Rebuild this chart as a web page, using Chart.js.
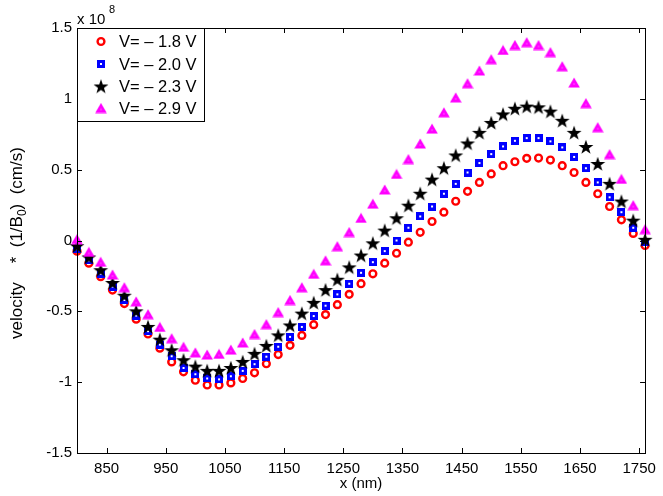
<!DOCTYPE html>
<html>
<head>
<meta charset="utf-8">
<script src="https://cdn.jsdelivr.net/npm/chart.js@4/dist/chart.umd.min.js"></script>
<style>
    html, body { margin: 0; padding: 0; background: #fff; }
    #velocity-chart { display: block; }
</style>
</head>
<body>
<canvas id="velocity-chart" width="663" height="496"></canvas>
<script>
// wavelength positions (nm)
const x_nm = [800, 820, 840, 860, 880, 900, 920, 940, 960, 980,
    1000, 1020, 1040, 1060, 1080, 1100, 1120, 1140, 1160, 1180,
    1200, 1220, 1240, 1260, 1280, 1300, 1320, 1340, 1360, 1380,
    1400, 1420, 1440, 1460, 1480, 1500, 1520, 1540, 1560, 1580,
    1600, 1620, 1640, 1660, 1680, 1700, 1720, 1740, 1760];

// velocity * (1/B0), in units of 1e8 cm/s
const v_18 = [-0.075, -0.16, -0.255, -0.35, -0.445, -0.555, -0.66, -0.76, -0.857, -0.927,
    -0.986, -1.02, -1.02, -1.005, -0.974, -0.934, -0.87, -0.805, -0.74, -0.67,
    -0.594, -0.523, -0.453, -0.38, -0.305, -0.235, -0.16, -0.09, -0.012, 0.058,
    0.134, 0.2, 0.277, 0.347, 0.41, 0.47, 0.528, 0.556, 0.58, 0.582,
    0.568, 0.528, 0.48, 0.41, 0.33, 0.24, 0.146, 0.05, -0.035];
const v_20 = [-0.06, -0.14, -0.235, -0.325, -0.42, -0.53, -0.64, -0.735, -0.817, -0.9,
    -0.944, -0.974, -0.98, -0.958, -0.92, -0.873, -0.82, -0.75, -0.68, -0.61,
    -0.533, -0.46, -0.38, -0.305, -0.228, -0.153, -0.075, 0.0, 0.09, 0.17,
    0.24, 0.33, 0.4, 0.48, 0.547, 0.61, 0.664, 0.704, 0.723, 0.723,
    0.7, 0.657, 0.59, 0.51, 0.41, 0.305, 0.2, 0.09, -0.01];
const v_23 = [-0.04, -0.12, -0.21, -0.3, -0.39, -0.5, -0.61, -0.7, -0.775, -0.845,
    -0.89, -0.92, -0.92, -0.9, -0.857, -0.8, -0.744, -0.67, -0.6, -0.516,
    -0.44, -0.35, -0.277, -0.19, -0.106, -0.02, 0.07, 0.157, 0.246, 0.33,
    0.43, 0.51, 0.6, 0.685, 0.76, 0.83, 0.89, 0.93, 0.945, 0.94,
    0.91, 0.845, 0.76, 0.66, 0.54, 0.4, 0.275, 0.14, 0.005];
const v_29 = [0.01, -0.08, -0.15, -0.24, -0.33, -0.43, -0.52, -0.61, -0.69, -0.75,
    -0.79, -0.805, -0.8, -0.77, -0.72, -0.66, -0.59, -0.505, -0.42, -0.33,
    -0.235, -0.14, -0.04, 0.06, 0.16, 0.26, 0.36, 0.47, 0.575, 0.685,
    0.79, 0.905, 1.01, 1.11, 1.2, 1.28, 1.345, 1.38, 1.4, 1.38,
    1.33, 1.23, 1.115, 0.97, 0.8, 0.61, 0.435, 0.25, 0.08];

const series_labels = ["V= \u2013 1.8 V", "V= \u2013 2.0 V", "V= \u2013 2.3 V", "V= \u2013 2.9 V"];

const x_ticks = [850, 950, 1050, 1150, 1250, 1350, 1450, 1550, 1650, 1750];
const y_ticks = [-1.5, -1, -0.5, 0, 0.5, 1, 1.5];

const FONT = "'Liberation Sans', Arial, Helvetica, sans-serif";

function make_square_marker() {
    let c = document.createElement('canvas');
    c.width = 8; c.height = 8;
    let ctx = c.getContext('2d');
    ctx.fillStyle = '#0000ff';
    ctx.fillRect(0, 0, 8, 8);
    ctx.fillStyle = '#ffffff';
    ctx.fillRect(3, 3, 2, 2);
    return c;
}

function make_star_marker() {
    let c = document.createElement('canvas');
    c.width = 16; c.height = 16;
    let ctx = c.getContext('2d');
    let cx = 8, cy = 8.5, ro = 7.8, ri = 3.1;
    ctx.beginPath();
    for (let i = 0; i < 10; i++) {
        let r = (i % 2 === 0) ? ro : ri;
        let a = -Math.PI / 2 + i * Math.PI / 5;
        let px = cx + r * Math.cos(a), py = cy + r * Math.sin(a);
        if (i === 0) ctx.moveTo(px, py); else ctx.lineTo(px, py);
    }
    ctx.closePath();
    ctx.fillStyle = '#000000';
    ctx.fill();
    return c;
}

function make_triangle_marker() {
    let c = document.createElement('canvas');
    c.width = 12; c.height = 11;
    let ctx = c.getContext('2d');
    ctx.beginPath();
    ctx.moveTo(6, 0.5);
    ctx.lineTo(11.8, 10.5);
    ctx.lineTo(0.2, 10.5);
    ctx.closePath();
    ctx.fillStyle = '#ff00ff';
    ctx.fill();
    ctx.fillStyle = '#ffb8ff';
    ctx.fillRect(5.5, 6.5, 1, 1);
    return c;
}

const square_img = make_square_marker();
const star_img = make_star_marker();
const triangle_img = make_triangle_marker();

function to_points(ys) {
    return x_nm.map((x, i) => ({ x: x, y: ys[i] }));
}

// box, inward ticks, labels and legend in matlab style
const matlab_axes_plugin = {
    id: 'matlab_axes',
    afterDraw(chart) {
        const ctx = chart.ctx;
        const area = chart.chartArea;
        const xs = chart.scales.x, ys = chart.scales.y;
        const tick_len = 5;

        ctx.save();
        ctx.strokeStyle = '#000';
        ctx.lineWidth = 1;
        ctx.beginPath();
        x_ticks.forEach((v) => {
            let px = Math.round(xs.getPixelForValue(v)) + 0.5;
            ctx.moveTo(px, area.bottom); ctx.lineTo(px, area.bottom - tick_len);
            ctx.moveTo(px, area.top); ctx.lineTo(px, area.top + tick_len);
        });
        y_ticks.forEach((v) => {
            let py = Math.round(ys.getPixelForValue(v)) + 0.5;
            ctx.moveTo(area.left, py); ctx.lineTo(area.left + tick_len, py);
            ctx.moveTo(area.right, py); ctx.lineTo(area.right - tick_len, py);
        });
        ctx.stroke();
        ctx.strokeRect(Math.round(area.left) + 0.5, Math.round(area.top) + 0.5,
            Math.round(area.right - area.left), Math.round(area.bottom - area.top));

        // exponent
        ctx.fillStyle = '#000';
        ctx.textBaseline = 'alphabetic';
        ctx.textAlign = 'left';
        ctx.font = '15px ' + FONT;
        ctx.fillText('x 10', area.left, 24);
        ctx.font = '11px ' + FONT;
        ctx.fillText('8', area.left + 32, 13);

        // x label
        ctx.font = '15px ' + FONT;
        ctx.textAlign = 'center';
        ctx.fillText('x (nm)', (area.left + area.right) / 2, 488);

        // y label with subscript
        ctx.save();
        ctx.translate(22, 243);
        ctx.rotate(-Math.PI / 2);
        ctx.textAlign = 'left';
        let part1 = 'velocity    *  (1/B';
        let part2 = '0';
        let part3 = ')  (cm/s)';
        ctx.font = '17px ' + FONT;
        let w1 = ctx.measureText(part1).width;
        let w3 = ctx.measureText(part3).width;
        ctx.font = '12px ' + FONT;
        let w2 = ctx.measureText(part2).width;
        let start = -(w1 + w2 + w3) / 2;
        ctx.font = '17px ' + FONT;
        ctx.fillText(part1, start, 0);
        ctx.font = '12px ' + FONT;
        ctx.fillText(part2, start + w1, 4);
        ctx.font = '17px ' + FONT;
        ctx.fillText(part3, start + w1 + w2, 0);
        ctx.restore();

        // legend
        let lx = Math.round(area.left) + 0.5, ly = Math.round(area.top) + 0.5;
        ctx.fillStyle = '#fff';
        ctx.fillRect(lx, ly, 127, 93);
        ctx.strokeRect(lx, ly, 127, 93);
        let rows = [41.5, 64, 86.5, 108];
        chart.data.datasets.forEach((ds, i) => {
            let mx = 101, my = rows[i];
            if (i === 0) {
                ctx.beginPath();
                ctx.arc(mx, my, 3.4, 0, Math.PI * 2);
                ctx.fillStyle = '#fff';
                ctx.fill();
                ctx.lineWidth = 2.4;
                ctx.strokeStyle = '#ff0000';
                ctx.stroke();
                ctx.lineWidth = 1;
                ctx.strokeStyle = '#000';
            } else {
                let img = ds.pointStyle;
                ctx.drawImage(img, mx - img.width / 2, my - img.height / 2);
            }
            ctx.fillStyle = '#000';
            ctx.font = '16.5px ' + FONT;
            ctx.textAlign = 'left';
            ctx.textBaseline = 'middle';
            ctx.fillText(ds.label, 119, my + 1);
        });
        ctx.restore();
    }
};

new Chart(document.getElementById('velocity-chart'), {
    type: 'scatter',
    data: {
        datasets: [
            {
                label: series_labels[0],
                data: to_points(v_18),
                pointStyle: 'circle',
                pointRadius: 3.4,
                pointBorderWidth: 2.4,
                borderColor: '#ff0000',
                backgroundColor: '#ffffff',
                clip: false,
                order: 3
            },
            {
                label: series_labels[1],
                data: to_points(v_20),
                pointStyle: square_img,
                clip: false,
                order: 2
            },
            {
                label: series_labels[2],
                data: to_points(v_23),
                pointStyle: star_img,
                clip: false,
                order: 1
            },
            {
                label: series_labels[3],
                data: to_points(v_29),
                pointStyle: triangle_img,
                clip: false,
                order: 0
            }
        ]
    },
    options: {
        responsive: false,
        animation: false,
        layout: {
            padding: { left: 0, right: 15, top: 28, bottom: 0 }
        },
        plugins: {
            legend: { display: false },
            tooltip: { enabled: false },
            title: { display: false }
        },
        scales: {
            x: {
                type: 'linear',
                min: 800,
                max: 1760,
                grid: { display: false, drawTicks: false },
                border: { display: false },
                afterBuildTicks: (scale) => {
                    scale.ticks = x_ticks.map((v) => ({ value: v }));
                },
                afterFit: (scale) => {
                    scale.height = 43;
                },
                ticks: {
                    autoSkip: false,
                    maxRotation: 0,
                    padding: 7,
                    color: '#000',
                    font: { family: FONT, size: 15 },
                    callback: (v) => String(v)
                }
            },
            y: {
                type: 'linear',
                min: -1.5,
                max: 1.5,
                grid: { display: false, drawTicks: false },
                border: { display: false },
                afterBuildTicks: (scale) => {
                    scale.ticks = y_ticks.map((v) => ({ value: v }));
                },
                afterFit: (scale) => {
                    scale.width = 77;
                },
                ticks: {
                    autoSkip: false,
                    padding: 5,
                    color: '#000',
                    font: { family: FONT, size: 15 },
                    callback: (v) => String(v)
                }
            }
        }
    },
    plugins: [matlab_axes_plugin]
});
</script>
</body>
</html>
